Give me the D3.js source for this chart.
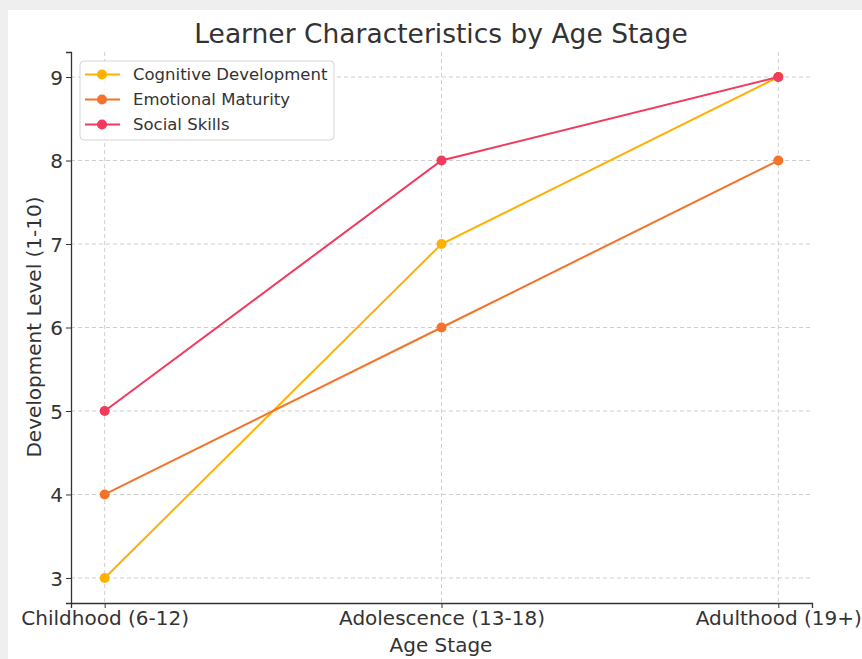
<!DOCTYPE html>
<html>
<head>
<meta charset="utf-8">
<script src="https://cdn.jsdelivr.net/npm/d3@7"></script>
<style>
  body { margin: 0; background: #fff; }
  text { font-family: "DejaVu Sans", sans-serif; fill: #333; }
</style>
</head>
<body>
<div id="chart"></div>
<script>
var stages = ["Childhood (6-12)", "Adolescence (13-18)", "Adulthood (19+)"];
var cognitive = [3, 7, 9];
var emotional = [4, 6, 8];
var social = [5, 8, 9];
var yTicks = [3, 4, 5, 6, 7, 8, 9];
var seriesNames = ["Cognitive Development", "Emotional Maturity", "Social Skills"];
var seriesColors = ["#ffb000", "#f4732a", "#f23a5c"];

var svgWidth = 862;
var svgHeight = 659;

var margin = { top: 52, right: 50, bottom: 56, left: 71 };
var width = 812 - margin.left;
var height = 603 - margin.top;

var svg = d3.select("#chart")
  .append("svg")
  .attr("width", svgWidth)
  .attr("height", svgHeight);

// grey frame around the picture
svg.append("rect").attr("width", svgWidth).attr("height", svgHeight).attr("fill", "#efefef");
svg.append("rect").attr("x", 8).attr("y", 10).attr("width", svgWidth - 8).attr("height", svgHeight - 10).attr("fill", "#fff");

var chartGroup = svg.append("g")
  .attr("transform", `translate(${margin.left}, ${margin.top})`);

// point positions with matplotlib-like 5% padding
var xScale = d3.scaleLinear()
  .domain([-0.1, 2.1])
  .range([0, width]);

var yScale = d3.scaleLinear()
  .domain([2.7, 9.3])
  .range([height, 0]);

// grid
chartGroup.append("g")
  .selectAll("line")
  .data(yTicks)
  .enter()
  .append("line")
  .attr("x1", 0)
  .attr("x2", width)
  .attr("y1", d => yScale(d))
  .attr("y2", d => yScale(d))
  .attr("stroke", "#cfcfcf")
  .attr("stroke-width", 1)
  .attr("stroke-dasharray", "4,3");

chartGroup.append("g")
  .selectAll("line")
  .data(stages)
  .enter()
  .append("line")
  .attr("x1", (d, i) => xScale(i))
  .attr("x2", (d, i) => xScale(i))
  .attr("y1", 0)
  .attr("y2", height)
  .attr("stroke", "#cfcfcf")
  .attr("stroke-width", 1)
  .attr("stroke-dasharray", "4,3");

// axes
var bottomAxis = d3.axisBottom(xScale)
  .tickValues([0, 1, 2])
  .tickFormat(i => stages[i])
  .tickSize(5)
  .tickPadding(3);

var leftAxis = d3.axisLeft(yScale)
  .tickValues(yTicks)
  .tickFormat(d3.format("d"))
  .tickSize(5)
  .tickPadding(3);

var xAxis = chartGroup.append("g")
  .attr("transform", `translate(0, ${height})`)
  .call(bottomAxis);

var yAxis = chartGroup.append("g")
  .call(leftAxis);

[xAxis, yAxis].forEach(function(ax) {
  ax.select(".domain").attr("stroke", "#333").attr("stroke-width", 1.3);
  ax.selectAll(".tick line").attr("stroke", "#333");
  ax.selectAll(".tick text")
    .attr("font-family", "DejaVu Sans")
    .attr("font-size", 20)
    .attr("fill", "#333");
});
yAxis.selectAll(".tick text").attr("dy", "0.36em");

// lines + markers
var allSeries = [cognitive, emotional, social];

var line = d3.line()
  .x((d, i) => xScale(i))
  .y(d => yScale(d));

allSeries.forEach(function(values, s) {
  chartGroup.append("path")
    .datum(values)
    .attr("d", line)
    .attr("fill", "none")
    .attr("stroke", seriesColors[s])
    .attr("stroke-width", 2);

  chartGroup.selectAll(".dot" + s)
    .data(values)
    .enter()
    .append("circle")
    .attr("cx", (d, i) => xScale(i))
    .attr("cy", d => yScale(d))
    .attr("r", 5)
    .attr("fill", seriesColors[s]);
});

// title and axis labels
svg.append("text")
  .attr("x", 441)
  .attr("y", 43)
  .attr("text-anchor", "middle")
  .attr("font-size", 26.5)
  .text("Learner Characteristics by Age Stage");

svg.append("text")
  .attr("x", 441)
  .attr("y", 652)
  .attr("text-anchor", "middle")
  .attr("font-size", 20)
  .text("Age Stage");

svg.append("text")
  .attr("transform", "rotate(-90)")
  .attr("x", -327)
  .attr("y", 41)
  .attr("text-anchor", "middle")
  .attr("font-size", 20)
  .text("Development Level (1-10)");

// legend
var legend = svg.append("g")
  .attr("transform", "translate(80, 61)");

legend.append("rect")
  .attr("width", 254)
  .attr("height", 79)
  .attr("rx", 4)
  .attr("fill", "#fff")
  .attr("fill-opacity", 0.8)
  .attr("stroke", "#d5d5d5");

seriesNames.forEach(function(name, i) {
  var y = 13.5 + i * 25;
  legend.append("line")
    .attr("x1", 5).attr("x2", 40)
    .attr("y1", y).attr("y2", y)
    .attr("stroke", seriesColors[i])
    .attr("stroke-width", 2);
  legend.append("circle")
    .attr("cx", 22).attr("cy", y).attr("r", 5)
    .attr("fill", seriesColors[i]);
  legend.append("text")
    .attr("x", 53)
    .attr("y", y)
    .attr("dy", "0.36em")
    .attr("font-size", 16.5)
    .text(name);
});
</script>
</body>
</html>
